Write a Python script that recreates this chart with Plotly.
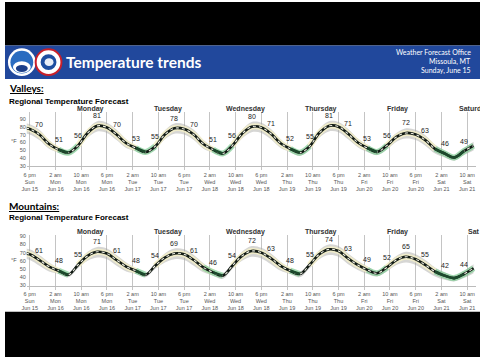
import pandas as pd
import plotly.graph_objects as go

# ---------------- data ----------------
# 3-hourly temperatures, starting Sun Jun 15 15:00
valley_temps = [80, 77, 70,
                58, 51, 47, 56, 72, 81, 79, 70,
                59, 53, 48, 55, 70, 78, 77, 70,
                58, 51, 46, 56, 71, 80, 79, 71,
                59, 52, 47, 55, 72, 81, 80, 71,
                60, 53, 48, 56, 67, 72, 70, 63,
                52, 46, 41, 49, 56]
valley_spread = [6, 6, 6,
                 5, 3, 2, 3, 5, 6, 6, 6,
                 5, 3, 2, 3, 5, 6, 6, 6,
                 5, 3, 2, 3, 5, 6, 6, 6,
                 5, 3, 3, 3, 5, 6, 6, 6,
                 5, 4, 3, 4, 5, 6, 6, 6,
                 5, 4, 3, 4, 5]
mountain_temps = [70, 68, 61,
                  53, 48, 43, 55, 66, 71, 69, 61,
                  53, 48, 43, 54, 64, 69, 68, 61,
                  52, 46, 42, 54, 66, 72, 70, 63,
                  54, 48, 44, 55, 68, 74, 72, 63,
                  55, 49, 45, 52, 61, 65, 62, 55,
                  47, 42, 39, 44, 51]
mountain_spread = [6, 6, 6,
                   5, 3, 2, 3, 5, 6, 6, 6,
                   5, 3, 2, 3, 5, 6, 6, 6,
                   5, 3, 3, 3, 5, 6, 6, 6,
                   5, 3, 3, 3, 5, 6, 6, 6,
                   5, 4, 3, 4, 5, 6, 6, 6,
                   5, 4, 3, 4, 5]
# labelled values every 6 h starting Sun Jun 15 21:00
valley_labels = [70, 51, 56, 81, 70, 53, 55, 78, 70, 51, 56, 80, 71,
                 52, 55, 81, 71, 53, 56, 72, 63, 46, 49]
mountain_labels = [61, 48, 55, 71, 61, 48, 54, 69, 61, 46, 54, 72, 63,
                   48, 55, 74, 63, 49, 52, 65, 55, 42, 44]
day_names = ["Monday", "Tuesday", "Wednesday", "Thursday", "Friday", "Saturday"]
day_noons = ["2025-06-16 13:00", "2025-06-17 13:00", "2025-06-18 13:00",
             "2025-06-19 12:30", "2025-06-20 12:30", "2025-06-21 12:00"]
y_ticks = [30, 40, 50, 60, 70, 80, 90]

times = pd.date_range("2025-06-15 15:00", periods=len(valley_temps), freq="3h")
label_times = pd.date_range("2025-06-15 21:00", periods=len(valley_labels), freq="6h")
grid_times = pd.date_range("2025-06-15 18:00", periods=18, freq="8h")
grid_text = [f"{t.hour % 12 or 12} {'am' if t.hour < 12 else 'pm'}<br>{t.strftime('%a')}<br>Jun {t.day}"
             for t in grid_times]

W, H = 480, 360
def py(p):  # pixel y -> paper y
    return 1 - p / H

fig = go.Figure()

def add_chart(temps, spread, labels, xa, ya, cool):
    up = [v + s for v, s in zip(temps, spread)]
    lo = [v - s - 1 for v, s in zip(temps, spread)]
    low_part = [v if v <= cool + 4 else None for v in temps]
    high_part = [v if v >= cool - 2 else None for v in temps]
    core_low = [v if v <= cool else None for v in temps]
    common = dict(xaxis=xa, yaxis=ya, hoverinfo="skip", showlegend=False)
    fig.add_trace(go.Scatter(x=times, y=up, mode="lines", line=dict(width=0, shape="spline"), **common))
    fig.add_trace(go.Scatter(x=times, y=lo, mode="lines", line=dict(width=0, shape="spline"),
                             fill="tonexty", fillcolor="rgba(165,165,160,0.45)", **common))
    fig.add_trace(go.Scatter(x=times, y=high_part, mode="lines",
                             line=dict(color="rgba(245,240,200,0.85)", width=6, shape="spline"), **common))
    fig.add_trace(go.Scatter(x=times, y=low_part, mode="lines",
                             line=dict(color="rgba(130,205,150,0.7)", width=6, shape="spline"), **common))
    fig.add_trace(go.Scatter(x=times, y=temps, mode="lines",
                             line=dict(color="#111a14", width=2.6, shape="spline"), **common))
    fig.add_trace(go.Scatter(x=times, y=temps, mode="lines",
                             line=dict(color="#f4f4e8", width=1.1, shape="spline", dash="dot"), **common))
    fig.add_trace(go.Scatter(x=times, y=core_low, mode="lines",
                             line=dict(color="#1c4a2c", width=2.6, shape="spline"), **common))
    for t, v in zip(label_times, labels):
        fig.add_annotation(x=t, y=v, xref=xa, yref=ya, text=str(v), showarrow=False,
                           yshift=10, font=dict(size=7, color="#222222", family="Liberation Sans"))

add_chart(valley_temps, valley_spread, valley_labels, "x", "y", 53)
add_chart(mountain_temps, mountain_spread, mountain_labels, "x2", "y2", 48)

xr = ["2025-06-15 17:05", "2025-06-21 12:46"]
xcommon = dict(range=xr, tickmode="array", tickvals=grid_times, ticktext=grid_text,
               showgrid=True, gridcolor="#c4c4c4", gridwidth=1, ticks="outside", ticklen=3,
               tickcolor="#c4c4c4", showline=True, linecolor="#bbbbbb",
               tickfont=dict(size=5.5, color="#555", family="Liberation Sans"), zeroline=False)
ycommon = dict(tickvals=y_ticks, showgrid=False, zeroline=False, showline=False, ticks="",
               tickfont=dict(size=5.5, color="#555", family="Liberation Sans"))

fig.update_layout(
    width=W, height=H, autosize=False, margin=dict(l=0, r=0, t=0, b=0),
    paper_bgcolor="white", plot_bgcolor="white",
    xaxis=dict(domain=[22 / W, 476 / W], anchor="y", **xcommon),
    yaxis=dict(domain=[py(166.5), py(112)], range=[30, 98], anchor="x", **ycommon),
    xaxis2=dict(domain=[22 / W, 476 / W], anchor="y2", **xcommon),
    yaxis2=dict(domain=[py(287.5), py(236)], range=[30, 91.8], anchor="x2", **ycommon),
)

shapes = [
    dict(type="rect", xref="paper", yref="paper", x0=0, x1=1, y0=py(44), y1=1,
         fillcolor="black", line_width=0, layer="above"),
    dict(type="rect", xref="paper", yref="paper", x0=0, x1=1, y0=0, y1=py(314),
         fillcolor="black", line_width=0, layer="above"),
    dict(type="rect", xref="paper", yref="paper", x0=0, x1=1, y0=py(78), y1=py(44),
         fillcolor="#21489c", line_width=0, layer="above"),
    # NOAA logo
    dict(type="circle", xref="paper", yref="paper", x0=3 / W, x1=31 / W, y0=py(75), y1=py(47),
         fillcolor="white", line_width=0, layer="above"),
    dict(type="circle", xref="paper", yref="paper", x0=5.5 / W, x1=28.5 / W, y0=py(72.5), y1=py(49.5),
         fillcolor="#2a6cc0", line_width=0, layer="above"),
    dict(type="circle", xref="paper", yref="paper", x0=8 / W, x1=26 / W, y0=py(72), y1=py(60),
         fillcolor="white", line_width=0, layer="above"),
    dict(type="circle", xref="paper", yref="paper", x0=11 / W, x1=23 / W, y0=py(71), y1=py(64),
         fillcolor="#1c3f8a", line_width=0, layer="above"),
    # NWS logo
    dict(type="circle", xref="paper", yref="paper", x0=31 / W, x1=57 / W, y0=py(74), y1=py(48),
         fillcolor="white", line=dict(color="#c8202a", width=2), layer="above"),
    dict(type="circle", xref="paper", yref="paper", x0=36 / W, x1=52 / W, y0=py(69), y1=py(53),
         fillcolor="#1d4ea0", line_width=0, layer="above"),
    dict(type="circle", xref="paper", yref="paper", x0=40 / W, x1=49 / W, y0=py(65), y1=py(57),
         fillcolor="#e8eef8", line_width=0, layer="above"),
]
fig.update_layout(shapes=shapes)

def txt(x, y, s, size, color="black", anchor="left", family="Liberation Sans"):
    fig.add_annotation(x=x / W, y=py(y), xref="paper", yref="paper", text=s, showarrow=False,
                       xanchor=anchor, yanchor="middle",
                       font=dict(size=size, color=color, family=family))

txt(60, 61, "<b>Temperature trends</b>", 15.5, "white", family="Lato")
txt(473, 51, "Weather Forecast Office", 7, "white", "right", family="Lato")
txt(473, 60, "Missoula, MT", 7, "white", "right", family="Lato")
txt(473, 69, "Sunday, June 15", 7, "white", "right", family="Lato")
txt(2, 87, "<b><u>Valleys:</u></b>", 10, family="Lato")
txt(2, 101, "<b>Regional Temperature Forecast</b>", 8)
txt(2, 207, "<b><u>Mountains:</u></b>", 10, family="Lato")
txt(2, 219, "<b>Regional Temperature Forecast</b>", 8)
txt(4, 141, "°F", 5.5, "#555")
txt(4, 262, "°F", 5.5, "#555")

for name, t in zip(day_names, day_noons):
    fig.add_annotation(x=t, y=py(108), xref="x", yref="paper", text=f"<b>{name}</b>",
                       yanchor="middle", showarrow=False,
                       font=dict(size=7, color="#333", family="Liberation Sans"))
    fig.add_annotation(x=t, y=py(233), xref="x2", yref="paper",
                       text="<b>Sat</b>" if name == "Saturday" else f"<b>{name}</b>",
                       yanchor="middle", showarrow=False,
                       font=dict(size=7, color="#333", family="Liberation Sans"))

fig.write_html("out.html", config={"displayModeBar": False},
               post_script="document.body.style.margin='0';document.body.style.overflow='hidden';")
